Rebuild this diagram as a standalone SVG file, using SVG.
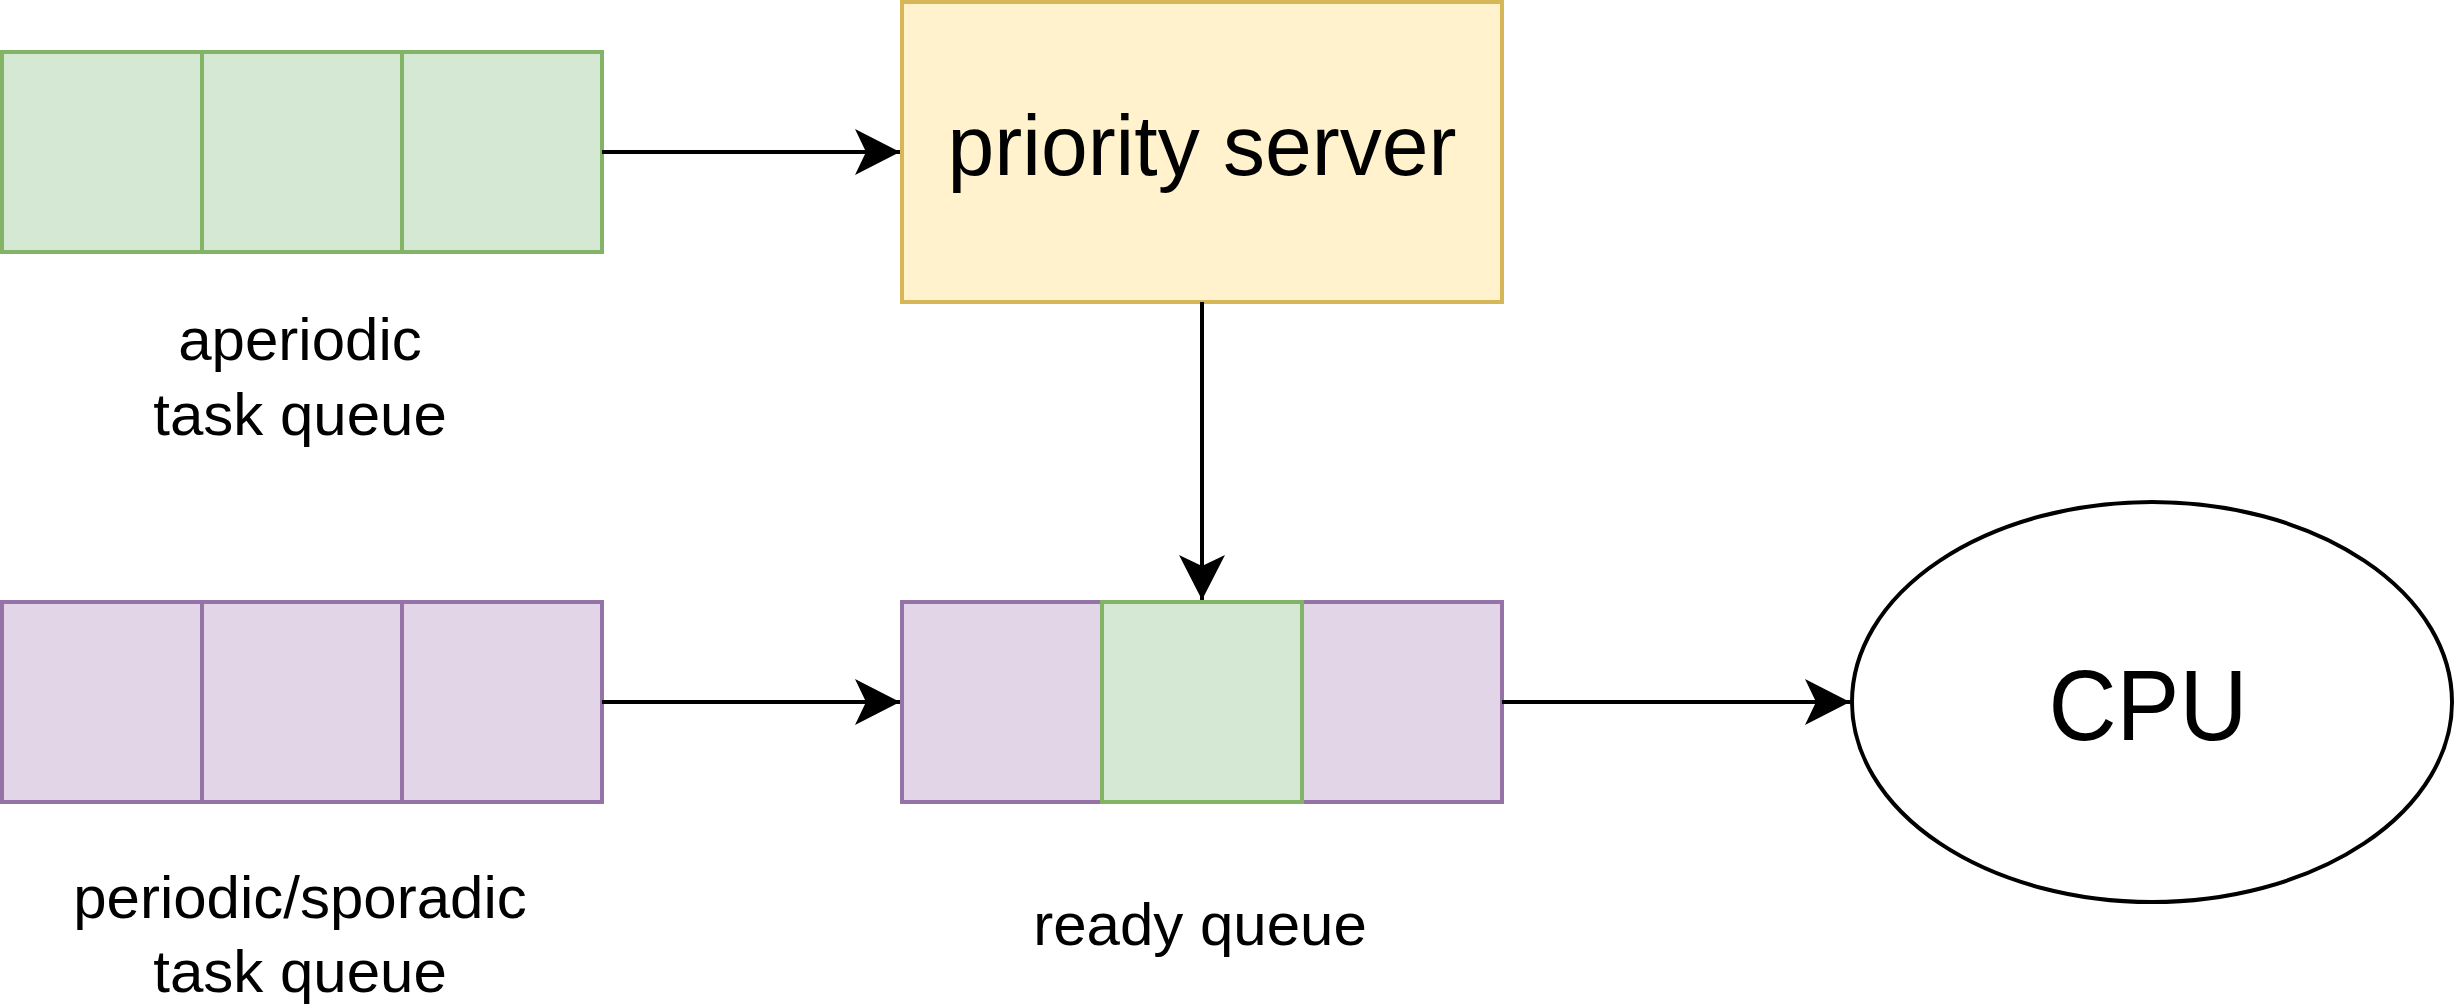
<svg xmlns="http://www.w3.org/2000/svg" width="2455" height="1005" viewBox="0 0 2455 1005">
<style>
.g{fill:#d5e8d4;stroke:#82b366;stroke-width:4}
.p{fill:#e1d5e7;stroke:#9673a6;stroke-width:4}
.y{fill:#fff2cc;stroke:#d6b656;stroke-width:4}
.e{fill:#fff;stroke:#000;stroke-width:4}
.c{fill:none;stroke:#000;stroke-width:4}
text{font-family:"Liberation Sans",Arial,sans-serif;fill:#000;text-anchor:middle}
.l{font-size:60px}
</style>
<defs>
<marker id="a" markerUnits="userSpaceOnUse" markerWidth="50" markerHeight="50" refX="45" refY="23" orient="auto">
<path d="M45,23 L0,0 L11,23 L0,46 Z" fill="#000"/>
</marker>
</defs>
<rect width="2455" height="1005" fill="#fff"/>
<g id="aperiodic-queue">
<rect class="g" x="2" y="52" width="200" height="200"/>
<rect class="g" x="202" y="52" width="200" height="200"/>
<rect class="g" x="402" y="52" width="200" height="200"/>
</g>
<g id="aperiodic-label"><text class="l" x="300" y="360">aperiodic</text><text class="l" x="300" y="435">task queue</text></g>
<g id="periodic-queue">
<rect class="p" x="2" y="602" width="200" height="200"/>
<rect class="p" x="202" y="602" width="200" height="200"/>
<rect class="p" x="402" y="602" width="200" height="200"/>
</g>
<g id="periodic-label"><text class="l" x="300" y="918">periodic/sporadic</text><text class="l" x="300" y="992">task queue</text></g>
<g id="priority-server">
<rect class="y" x="902" y="2" width="600" height="300"/>
<text x="1202" y="175" font-size="86" textLength="509" lengthAdjust="spacingAndGlyphs">priority server</text>
</g>
<g id="ready-queue">
<rect class="p" x="902" y="602" width="200" height="200"/>
<rect class="p" x="1302" y="602" width="200" height="200"/>
<rect class="g" x="1102" y="602" width="200" height="200"/>
</g>
<g id="ready-label"><text class="l" x="1200" y="945">ready queue</text></g>
<g id="cpu">
<ellipse class="e" cx="2152" cy="702" rx="300" ry="200"/>
<text x="2148" y="740" font-size="100" textLength="199" lengthAdjust="spacingAndGlyphs">CPU</text>
</g>
<g id="connectors">
<line class="c" x1="602" y1="152" x2="900" y2="152" marker-end="url(#a)"/>
<line class="c" x1="602" y1="702" x2="900" y2="702" marker-end="url(#a)"/>
<line class="c" x1="1202" y1="302" x2="1202" y2="600" marker-end="url(#a)"/>
<line class="c" x1="1502" y1="702" x2="1850" y2="702" marker-end="url(#a)"/>
</g>
</svg>
